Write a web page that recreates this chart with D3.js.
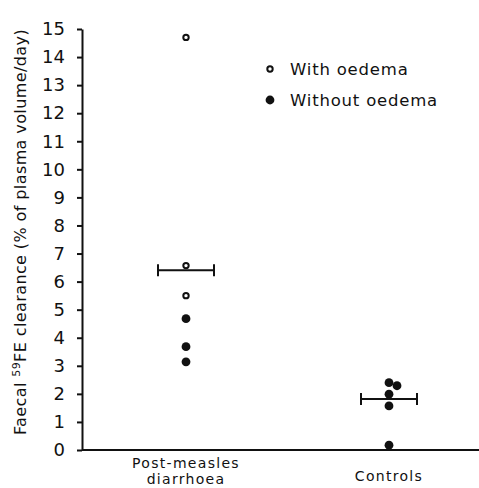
<!DOCTYPE html>
<html>
<head>
<meta charset="utf-8">
<script src="https://cdn.jsdelivr.net/npm/d3@7"></script>
<style>
  body { margin: 0; background: #fff; overflow: hidden; }
  text { font-family: "DejaVu Sans", sans-serif; fill: #111; }
</style>
</head>
<body>
<div id="chart"></div>
<script>
// groups along x
const groups = ["Post-measles diarrhoea", "Controls"];
const groupLines = [["Post-measles", "diarrhoea"], ["Controls"]];

// individual values
const pmValues   = [14.7, 6.57, 5.5, 4.68, 3.68, 3.14];
const pmOedema   = [true, true, true, false, false, false];
const ctlValues  = [2.4, 2.29, 1.99, 1.57, 0.17];
const ctlOffset  = [0, 8, 0, 0, 0];   // small horizontal jitter seen in picture (px)

// means
const means = [6.4, 1.82];

const yTicks = d3.range(0, 16);

const margin = { top: 29, right: 0, bottom: 38, left: 82 },
      width  = 479 - margin.left - margin.right,
      height = 488 - margin.top - margin.bottom;

const svg = d3.select("#chart")
  .append("svg")
  .attr("width", 479)
  .attr("height", 488)
  .append("g")
  .attr("transform", `translate(${margin.left},${margin.top})`);

const x = d3.scalePoint()
  .domain(groups)
  .range([104, 307]);

const y = d3.scaleLinear()
  .domain([0, 15])
  .range([height, 0]);

// Y axis
const yAxis = svg.append("g")
  .call(d3.axisLeft(y).tickValues(yTicks).tickSize(5).tickSizeOuter(0).tickPadding(12));
yAxis.select(".domain").attr("stroke-width", 2).attr("stroke", "#111");
yAxis.selectAll(".tick line").attr("stroke-width", 2).attr("stroke", "#111");
yAxis.selectAll(".tick text")
  .style("font-size", "18px")
  .style("font-family", "'DejaVu Sans', sans-serif")
  .attr("fill", "#111");

// X axis line
svg.append("line")
  .attr("x1", 0).attr("x2", width)
  .attr("y1", height).attr("y2", height)
  .attr("stroke", "#111").attr("stroke-width", 2);

// x labels
const labelBase = [468 - margin.top, 481 - margin.top];
groupLines.forEach((lines, i) => {
  lines.forEach((l, j) => {
    svg.append("text")
      .attr("x", x(groups[i]))
      .attr("y", labelBase[i] + j * 16)
      .attr("text-anchor", "middle")
      .style("font-size", "14px")
      .style("letter-spacing", "1.3px")
      .text(l);
  });
});

// y label
svg.append("text")
  .attr("transform", `translate(${26 - margin.left},${232 - margin.top}) rotate(-90)`)
  .attr("text-anchor", "middle")
  .style("font-size", "16px")
  .style("letter-spacing", "0.4px")
  .html('Faecal <tspan dy="-6" font-size="11px">59</tspan><tspan dy="6">FE clearance (% of plasma volume/day)</tspan>');

// points
const pmData = pmValues.map((v, i) => ({ v, oed: pmOedema[i], g: groups[0], dx: 0 }));
const ctlData = ctlValues.map((v, i) => ({ v, oed: false, g: groups[1], dx: ctlOffset[i] }));
const allData = pmData.concat(ctlData);

svg.selectAll("circle.pt")
  .data(allData)
  .join("circle")
  .attr("class", "pt")
  .attr("cx", d => x(d.g) + d.dx)
  .attr("cy", d => y(d.v))
  .attr("r", d => d.oed ? 2.7 : 4.4)
  .attr("fill", d => d.oed ? "#fff" : "#111")
  .attr("stroke", "#111")
  .attr("stroke-width", d => d.oed ? 2 : 0);

// mean bars
const halfW = 28;
means.forEach((m, i) => {
  const cx = x(groups[i]);
  const g = svg.append("g").attr("stroke", "#111").attr("stroke-width", 2);
  g.append("line").attr("x1", cx - halfW).attr("x2", cx + halfW)
    .attr("y1", y(m)).attr("y2", y(m));
  g.append("line").attr("x1", cx - halfW).attr("x2", cx - halfW)
    .attr("y1", y(m) - 6).attr("y2", y(m) + 6);
  g.append("line").attr("x1", cx + halfW).attr("x2", cx + halfW)
    .attr("y1", y(m) - 6).attr("y2", y(m) + 6);
});

// legend
const legendItems = [
  { label: "With oedema", oed: true },
  { label: "Without oedema", oed: false }
];
const legend = svg.append("g").attr("transform", `translate(${270 - margin.left},${69 - margin.top})`);
legendItems.forEach((d, i) => {
  legend.append("circle")
    .attr("cx", 0).attr("cy", i * 31)
    .attr("r", d.oed ? 2.7 : 4.4)
    .attr("fill", d.oed ? "#fff" : "#111")
    .attr("stroke", "#111")
    .attr("stroke-width", d.oed ? 2 : 0);
  legend.append("text")
    .attr("x", 20).attr("y", i * 31 + 6)
    .style("font-size", "16.5px")
    .style("letter-spacing", "0.8px")
    .text(d.label);
});
</script>
</body>
</html>
